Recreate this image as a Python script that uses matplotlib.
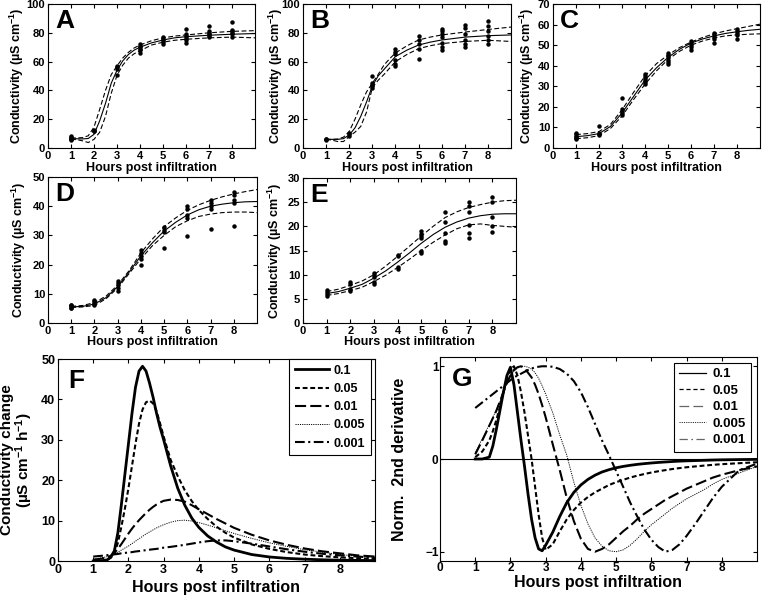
import matplotlib
matplotlib.use('Agg')
import matplotlib.pyplot as plt
from matplotlib.lines import Line2D

plt.rcParams['font.family'] = ['Liberation Sans', 'DejaVu Sans']
plt.rcParams['font.weight'] = 'bold'
plt.rcParams['axes.labelweight'] = 'bold'
plt.rcParams['mathtext.fontset'] = 'custom'
plt.rcParams['mathtext.rm'] = 'Liberation Sans:bold'
plt.rcParams['mathtext.it'] = 'Liberation Sans:bold'
plt.rcParams['mathtext.bf'] = 'Liberation Sans:bold'
plt.rcParams['lines.scale_dashes'] = False

# ---------------- data: panels A-E (measured points + fitted curves) ----------------
dot_hours = [1, 2, 3, 4, 5, 6, 7, 8]

dots_A = [[5.5, 6, 6.5, 7, 7.5, 8], [11.5, 12, 12.5], [51, 55, 56, 57],
          [66, 68, 69, 70, 71, 72], [72, 73.5, 75, 76, 77], [73, 75, 76.5, 78, 79, 82.5],
          [77, 78, 79, 80, 81, 84.5], [77, 79, 80, 81, 82, 87.5]]
dots_B = [[5.5, 6, 6.5], [8.5, 9.5, 10.5], [42, 43, 44, 45, 50],
          [57, 58, 61, 65, 67, 69], [62, 69, 72, 75, 78], [68, 70, 73, 77, 79, 81, 82.5],
          [70, 72, 75, 79, 83, 85.5], [72, 75, 78, 81, 85, 88.5]]
dots_C = [[4.5, 5, 5.5, 6, 7, 7.5], [6.5, 7, 7.5, 10.8], [16, 17, 18, 19, 24.2],
          [31, 32, 33, 34, 35, 36], [41, 42, 43, 44, 45, 46], [47.5, 49, 50, 51, 52],
          [51, 53, 54, 55, 56], [53, 55, 56, 57, 58]]
dots_D = [[5, 5.3, 5.7, 6, 6.2], [6, 6.5, 7, 7.5, 8], [11, 12, 13, 13.8, 14.3],
          [20, 22, 23, 24, 25], [25.8, 31, 32, 33], [29.8, 36, 37, 39, 40],
          [32.2, 39, 40, 41, 42], [33.2, 41, 42, 44, 45]]
dots_E = [[5.6, 6, 6.5, 6.8], [6.6, 7, 8.1, 8.5], [8, 8.4, 9.5, 10, 10.3],
          [11.2, 11.5, 13.8, 14.1], [14.4, 15, 17.5, 18, 18.5, 19], [16.5, 17, 18.6, 21, 23],
          [17.5, 18.6, 20.3, 23, 24.2, 25], [18.8, 20.1, 22, 25, 26.1]]

fit_hours_AB = [1, 1.25, 1.5, 1.75, 2, 2.25, 2.5, 2.75, 3, 3.25, 3.5, 3.75, 4, 4.5, 5, 5.5, 6, 7, 8, 9]
fit_A = [6.5, 6.4, 6.3, 6.6, 9.5, 19, 31, 45, 54, 60.5, 65, 68, 70, 73, 75, 76.5, 77.3, 78.3, 79, 79.5]
fit_A_hi = [7, 7, 7.2, 8.5, 14.5, 27, 40, 51, 57, 62.5, 66.5, 69.5, 71.5, 74.5, 76.5, 77.7, 78.5, 80, 81, 81.5]
fit_A_lo = [6, 5.8, 5, 3.8, 6, 11, 22, 38, 50.5, 57.5, 62.5, 65.5, 67.5, 71.5, 73.5, 74.8, 75.5, 76.5, 77, 76.5]
fit_B = [6, 6, 6, 6.5, 9, 14, 22, 32, 43, 50, 54.5, 59, 63.5, 68, 71.5, 73.5, 75, 77, 78, 78.5]
fit_B_hi = [6, 6, 6.2, 7.5, 11.5, 20, 30, 39, 45, 51, 57.5, 62, 66, 71, 75, 77, 78.5, 80.5, 82.3, 84]
fit_B_lo = [6, 5.5, 4.5, 4.5, 8, 11, 15, 25, 42, 47, 51, 55.5, 60, 65, 69, 71, 72.5, 74, 74.8, 74]

fit_hours_CDE = [1, 1.5, 2, 2.5, 3, 3.5, 4, 4.5, 5, 5.5, 6, 6.5, 7, 7.5, 8, 8.5, 9]
fit_C = [5.5, 6, 7, 10.5, 17, 25, 33, 39, 44, 48, 51, 53, 54.5, 55.7, 56.5, 57.2, 57.7]
fit_C_hi = [6.5, 7, 8, 11.5, 18.5, 27, 35, 41, 45.2, 48.8, 51.5, 53.7, 55.5, 56.9, 58, 59.1, 60.2]
fit_C_lo = [4.5, 5, 6, 9.5, 15.5, 23.5, 31, 37.5, 43, 47, 50, 52, 53.5, 54.5, 55, 55.3, 55.5]
fit_D = [5.5, 5.7, 6.5, 8.7, 12.5, 17.5, 23, 27.5, 31.5, 34.5, 37, 38.8, 40, 40.7, 41.2, 41.5, 41.6]
fit_D_hi = [5.7, 6, 7, 9.2, 13, 18, 24, 28.8, 33, 36, 38.6, 40.5, 42, 43.2, 44.2, 45, 45.7]
fit_D_lo = [5.3, 5.5, 6, 8.3, 12, 17, 22, 26.5, 30, 33, 35, 36.5, 37.3, 37.8, 38, 38, 37.8]
fit_E = [6.1, 6.5, 7.2, 8, 9.3, 10.8, 12.6, 14.5, 16.5, 18.3, 19.8, 20.9, 21.7, 22.2, 22.5, 22.6, 22.6]
fit_E_hi = [6.5, 7, 7.8, 8.7, 10, 11.8, 13.8, 15.9, 18, 20, 21.8, 23, 23.9, 24.5, 25, 25.3, 25.4]
fit_E_lo = [5.7, 6.1, 6.7, 7.4, 8.6, 9.9, 11.5, 13.2, 15, 16.7, 18.2, 19.5, 20.3, 20.5, 20.2, 20, 19.8]

# ---------------- data: panel F (conductivity change) ----------------
rate_labels = ['0.1', '0.05', '0.01', '0.005', '0.001']
F_hours = [1, 1.25, 1.4, 1.5, 1.6, 1.7, 1.8, 1.9, 2, 2.1, 2.2, 2.3, 2.4, 2.5, 2.6, 2.7, 2.8, 2.9,
           3, 3.2, 3.4, 3.6, 3.8, 4, 4.25, 4.5, 4.75, 5, 5.5, 6, 6.5, 7, 7.5, 8, 8.5, 9]
F_01 = [0, 0.05, 0.3, 1.0, 2.5, 7, 14, 21.5, 29, 36.5, 43, 47, 48.2, 47, 44, 40.5, 36.5, 33,
        30, 23.5, 18, 13.8, 10.6, 8.3, 6.2, 4.7, 3.5, 2.7, 1.6, 1.0, 0.65, 0.45, 0.3, 0.2, 0.15, 0.1]
F_005 = [0, 0.05, 0.3, 0.8, 2, 4.5, 8.5, 13, 18, 23.5, 29, 34, 37.5, 39.3, 39.7, 39, 37, 34,
         30.8, 25, 21, 17.5, 14.8, 12.6, 10.4, 8.5, 7, 5.8, 4.1, 3, 2.2, 1.6, 1.2, 0.9, 0.7, 0.5]
F_001 = [0.3, 0.6, 0.9, 1.3, 2, 3, 4.2, 5.5, 6.8, 8, 9.1, 10.1, 11, 11.9, 12.7, 13.4, 14, 14.5,
         14.9, 15.2, 15.1, 14.7, 13.8, 12.8, 11.6, 10.4, 9.3, 8.2, 6.5, 5.1, 4, 3.1, 2.4, 1.9, 1.4, 1.1]
F_0005 = [0.5, 0.8, 1.1, 1.4, 1.8, 2.2, 2.7, 3.2, 3.7, 4.3, 4.9, 5.5, 6.1, 6.7, 7.2, 7.7, 8.2, 8.6,
          9, 9.6, 10, 10.1, 9.9, 9.5, 8.9, 8.2, 7.5, 6.8, 5.6, 4.5, 3.6, 2.8, 2.2, 1.6, 1.2, 0.9]
F_0001 = [1.1, 1.3, 1.45, 1.55, 1.65, 1.75, 1.9, 2.0, 2.1, 2.2, 2.35, 2.45, 2.55, 2.7, 2.8, 2.9, 3.0, 3.15,
          3.3, 3.5, 3.75, 4.0, 4.3, 4.6, 4.9, 5.1, 5.1, 4.9, 4.3, 3.6, 2.9, 2.3, 1.8, 1.4, 1.1, 0.8]

# ---------------- data: panel G (normalised 2nd derivative) ----------------
G_hours = [1, 1.2, 1.4, 1.5, 1.6, 1.7, 1.8, 1.9, 2, 2.1, 2.2, 2.3, 2.4, 2.5, 2.6, 2.7, 2.8, 2.9,
           3, 3.2, 3.4, 3.6, 3.8, 4, 4.2, 4.4, 4.6, 4.8, 5, 5.2, 5.4, 5.6, 5.8, 6, 6.2, 6.4, 6.6,
           6.8, 7, 7.25, 7.5, 7.75, 8, 8.5, 9]
G_01 = [0, 0, 0.02, 0.14, 0.32, 0.52, 0.72, 0.9, 0.99, 0.8, 0.5, 0.2, -0.08, -0.38, -0.65, -0.85, -0.97, -0.99,
        -0.93, -0.79, -0.62, -0.47, -0.36, -0.28, -0.22, -0.175, -0.14, -0.115, -0.095, -0.08, -0.068, -0.058, -0.05,
        -0.043, -0.037, -0.032, -0.027, -0.023, -0.02, -0.017, -0.014, -0.011, -0.009, -0.006, -0.004]
G_005 = [0.02, 0.08, 0.2, 0.3, 0.42, 0.56, 0.72, 0.87, 0.97, 1.0, 0.9, 0.72, 0.5, 0.25, 0.0, -0.3, -0.6, -0.85,
         -0.98, -0.92, -0.78, -0.65, -0.55, -0.47, -0.41, -0.36, -0.32, -0.28, -0.25, -0.225, -0.2, -0.18, -0.162,
         -0.146, -0.132, -0.12, -0.108, -0.098, -0.089, -0.08, -0.071, -0.063, -0.056, -0.045, -0.035]
G_001 = [0.05, 0.2, 0.36, 0.44, 0.52, 0.62, 0.72, 0.82, 0.9, 0.96, 0.99, 1.0, 0.98, 0.93, 0.88, 0.8, 0.7, 0.58,
         0.45, 0.16, -0.12, -0.42, -0.67, -0.86, -0.97, -1.0, -0.97, -0.92, -0.85, -0.78, -0.72, -0.65, -0.59,
         -0.54, -0.49, -0.44, -0.4, -0.36, -0.32, -0.28, -0.24, -0.2, -0.17, -0.12, -0.08]
G_0005 = [0.07, 0.22, 0.37, 0.45, 0.53, 0.62, 0.72, 0.82, 0.9, 0.95, 0.98, 1.0, 1.0, 0.99, 0.97, 0.93, 0.87, 0.79,
          0.7, 0.5, 0.26, 0.04, -0.25, -0.5, -0.7, -0.85, -0.94, -0.99, -1.0, -0.98, -0.93, -0.86, -0.78,
          -0.71, -0.65, -0.59, -0.53, -0.48, -0.43, -0.38, -0.33, -0.27, -0.22, -0.15, -0.08]
G_0001 = [0.55, 0.61, 0.67, 0.7, 0.73, 0.76, 0.79, 0.82, 0.85, 0.88, 0.9, 0.92, 0.94, 0.96, 0.975, 0.99, 0.995, 1.0,
          1.0, 0.995, 0.97, 0.92, 0.84, 0.72, 0.56, 0.38, 0.2, 0.04, -0.13, -0.3, -0.47, -0.62, -0.76,
          -0.87, -0.95, -1.0, -0.98, -0.92, -0.83, -0.7, -0.56, -0.42, -0.3, -0.12, -0.05]

# ---------------- figure ----------------
W, H = 762, 596
fig = plt.figure(figsize=(W / 100, H / 100), dpi=100)


def place(left, top, right, bottom):
    return fig.add_axes([left / W, 1 - bottom / H, (right - left) / W, (bottom - top) / H])


def style(ax, fs, pad=2):
    ax.tick_params(direction='in', top=True, right=True, length=3, width=0.8,
                   labelsize=fs, pad=pad)
    for s in ax.spines.values():
        s.set_linewidth(0.8)


cond_label = 'Conductivity (µS cm$^{-1}$)'

small_panels = [
    ('A', (48, 4, 255, 148), dots_A, fit_hours_AB, fit_A, fit_A_hi, fit_A_lo, 100, 20, -0.107, -0.1),
    ('B', (303, 4, 511, 148), dots_B, fit_hours_AB, fit_B, fit_B_hi, fit_B_lo, 100, 20, -0.087, -0.1),
    ('C', (553, 4, 760, 148), dots_C, fit_hours_CDE, fit_C, fit_C_hi, fit_C_lo, 70, 10, -0.083, -0.1),
    ('D', (48, 177, 257, 323), dots_D, fit_hours_CDE, fit_D, fit_D_hi, fit_D_lo, 50, 10, -0.096, -0.09),
    ('E', (303, 178, 516, 323), dots_E, fit_hours_CDE, fit_E, fit_E_hi, fit_E_lo, 30, 5, -0.089, -0.09),
]

for letter, box, dots, fx, fy, fhi, flo, ymax, ystep, ylx, xly in small_panels:
    ax = place(*box)
    for h, vals in zip(dot_hours, dots):
        ax.plot([h] * len(vals), vals, 'o', color='black', ms=3.2, mew=0)
    ax.plot(fx, fy, color='black', lw=0.8)
    ax.plot(fx, fhi, color='black', lw=0.8, dashes=(3.5, 1.8))
    ax.plot(fx, flo, color='black', lw=0.8, dashes=(3.5, 1.8))
    ax.set_xlim(0, 9)
    ax.set_ylim(0, ymax)
    ax.set_xticks(range(0, 9))
    ax.set_yticks(range(0, ymax + 1, ystep))
    style(ax, 8)
    ax.set_xlabel('Hours post infiltration', fontsize=9)
    ax.set_ylabel(cond_label, fontsize=9)
    ax.yaxis.set_label_coords(ylx, 0.5)
    ax.xaxis.set_label_coords(0.5, xly)
    ax.xaxis.label.set_va('top')
    ax.text(0.035, 0.965, letter, transform=ax.transAxes, fontsize=19,
            fontweight='bold', ha='left', va='top')

# line styles shared by F and G
F_styles = [dict(lw=2.0, linestyle='-'),
            dict(lw=1.5, dashes=(3.5, 2)),
            dict(lw=1.5, dashes=(8, 3)),
            dict(lw=0.7, dashes=(0.8, 0.8)),
            dict(lw=1.5, dashes=(7, 2.5, 1.5, 2.5))]

# ---- F ----
axF = place(58, 359, 375, 561)
for vals, lab, st in zip([F_01, F_005, F_001, F_0005, F_0001], rate_labels, F_styles):
    axF.plot(F_hours, vals, color='black', label=lab, **st)
axF.set_xlim(0, 9)
axF.set_ylim(0, 50)
axF.set_xticks(range(0, 9))
axF.set_yticks(range(0, 51, 10))
style(axF, 9)
axF.set_xlabel('Hours post infiltration', fontsize=11.5)
axF.set_ylabel('Conductivity change\n(µS cm$^{-1}$ h$^{-1}$)', fontsize=11, linespacing=0.95)
axF.yaxis.set_label_coords(-0.073, 0.5)
axF.xaxis.set_label_coords(0.5, -0.094)
axF.xaxis.label.set_va('top')
axF.text(0.032, 0.95, 'F', transform=axF.transAxes, fontsize=19, fontweight='bold',
         ha='left', va='top')
legF = axF.legend(loc='upper right', bbox_to_anchor=(0.987, 1.0), borderaxespad=0,
                  fontsize=9, handlelength=2.7, handletextpad=0.4, labelspacing=0.5,
                  borderpad=0.45, fancybox=False, framealpha=1, edgecolor='black')
legF.get_frame().set_linewidth(0.8)

# ---- G ----
axG = place(440, 357, 757, 561)
axG.axhline(0, color='black', lw=0.8)
for vals, st in zip([G_01, G_005, G_001, G_0005, G_0001], F_styles):
    axG.plot(G_hours, vals, color='black', **st)
axG.set_xlim(0, 9)
axG.set_ylim(-1.1, 1.1)
axG.set_xticks(range(0, 9))
axG.set_yticks([-1, 0, 1])
style(axG, 8.5, pad=1)
axG.set_xlabel('Hours post infiltration', fontsize=11.5)
axG.set_ylabel('Norm.  2nd derivative', fontsize=11.5)
axG.yaxis.set_label_coords(-0.104, 0.5)
axG.xaxis.set_label_coords(0.5, -0.068)
axG.xaxis.label.set_va('top')
axG.text(0.038, 0.95, 'G', transform=axG.transAxes, fontsize=19, fontweight='bold',
         ha='left', va='top')
G_handles = [Line2D([], [], color='black', lw=0.9),
             Line2D([], [], color='black', lw=0.9, dashes=(3, 2)),
             Line2D([], [], color='#666666', lw=0.9, dashes=(7, 3)),
             Line2D([], [], color='black', lw=0.6, dashes=(0.8, 0.8)),
             Line2D([], [], color='#666666', lw=0.9, dashes=(6, 2.5, 1.2, 2.5))]
legG = axG.legend(G_handles, rate_labels, loc='upper right', bbox_to_anchor=(0.981, 0.971),
                  borderaxespad=0, fontsize=9.5, handlelength=2.0, handletextpad=0.5,
                  labelspacing=0.32, borderpad=0.4, fancybox=False, framealpha=1,
                  edgecolor='black')
legG.get_frame().set_linewidth(0.8)

fig.savefig('out.png', dpi=100)
